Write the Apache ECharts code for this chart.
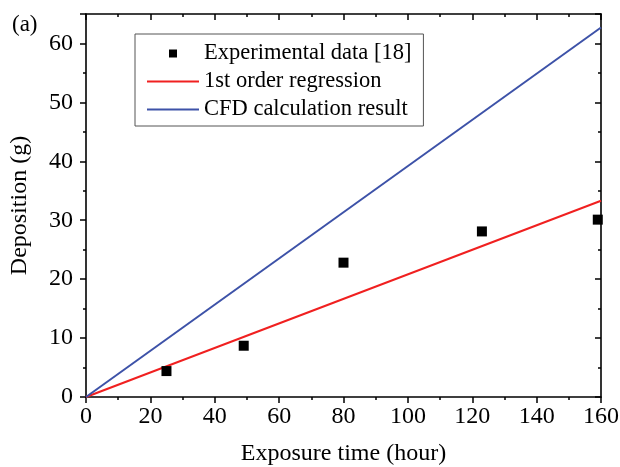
<!DOCTYPE html>
<html>
<head>
<meta charset="utf-8">
<title>Deposition vs exposure time</title>
<script src="https://cdn.jsdelivr.net/npm/echarts@6/dist/echarts.min.js"></script>
<style>
    html, body { margin: 0; padding: 0; background: #fff; }
    #chart { width: 620px; height: 467px; }
</style>
</head>
<body>
<div id="chart"></div>
<script>
'use strict';

// 实验数据 (小时, 克)
var expTime = [25, 49, 80, 123, 159];
var expDeposition = [4.4, 8.7, 22.8, 28.1, 30.1];

// 一次回归线 / CFD计算结果 的端点
var regTime = [0, 160];
var regDeposition = [0, 33.3];
var cfdTime = [0, 160];
var cfdDeposition = [0, 62.7];

var seriesNames = ['Experimental data [18]', '1st order regression', 'CFD calculation result'];

var FONT = '"Liberation Serif", "Times New Roman", serif';

function pairs(xs, ys) {
    return xs.map(function(x, i) { return [x, ys[i]]; });
}

var chart = echarts.init(document.getElementById('chart'), null, { renderer: 'canvas' });

// 坐标轴公共样式
var axisLine = { show: true, onZero: false, lineStyle: { color: '#000', width: 1.6 } };
var tickFmt = function(v) { return v % 10 === 0 ? String(v) : ''; };

var option = {
    backgroundColor: '#fff',
    animation: false,
    title: {
        text: '(a)',
        left: 7,
        top: 8,
        textStyle: { fontFamily: FONT, fontSize: 23, fontWeight: 'normal', color: '#000' }
    },
    // 不让v6自动收缩网格（160标签会贴到右边）
    grid: { left: 86, right: 19, top: 14, bottom: 70, outerBoundsMode: 'none' },
    legend: {
        // 线条图例不要中间的圆点
        data: [
            { name: seriesNames[0] },
            { name: seriesNames[1], itemStyle: { opacity: 0 } },
            { name: seriesNames[2], itemStyle: { opacity: 0 } }
        ],
        orient: 'vertical',
        left: 135,
        top: 34,
        padding: [8, 12, 5, 11],
        itemGap: 5,
        itemWidth: 52,
        itemHeight: 10,
        borderColor: '#555',
        borderWidth: 1,
        textStyle: { fontFamily: FONT, fontSize: 22.5, color: '#000' }
    },
    xAxis: [{
        type: 'value',
        min: 0,
        max: 160,
        interval: 20,
        position: 'bottom',
        name: 'Exposure time (hour)',
        nameLocation: 'middle',
        nameGap: 45,
        nameTextStyle: { fontFamily: FONT, fontSize: 24, color: '#000' },
        axisLine: axisLine,
        axisTick: { show: true, inside: false, length: 6, lineStyle: { color: '#000', width: 1.5 } },
        minorTick: { show: true, splitNumber: 2, length: 3, lineStyle: { color: '#000', width: 1.5 } },
        axisLabel: { fontFamily: FONT, fontSize: 24, color: '#000', margin: 8 },
        splitLine: { show: false }
    }, {
        type: 'value',
        min: 0,
        max: 160,
        interval: 20,
        position: 'top',
        axisLine: axisLine,
        axisTick: { show: true, inside: true, length: 6, lineStyle: { color: '#000', width: 1.5 } },
        minorTick: { show: true, splitNumber: 2, length: 3, lineStyle: { color: '#000', width: 1.5 } },
        axisLabel: { show: false },
        splitLine: { show: false }
    }],
    yAxis: [{
        type: 'value',
        min: 0,
        max: 65,
        interval: 10,
        position: 'left',
        name: 'Deposition (g)',
        nameLocation: 'middle',
        nameGap: 54,
        nameTextStyle: { fontFamily: FONT, fontSize: 24, color: '#000' },
        axisLine: axisLine,
        axisTick: { show: true, inside: false, length: 6, lineStyle: { color: '#000', width: 1.5 } },
        minorTick: { show: true, splitNumber: 2, length: 3, lineStyle: { color: '#000', width: 1.5 } },
        axisLabel: { fontFamily: FONT, fontSize: 24, color: '#000', margin: 13, formatter: tickFmt },
        splitLine: { show: false }
    }, {
        type: 'value',
        min: 0,
        max: 65,
        interval: 10,
        position: 'right',
        axisLine: axisLine,
        axisTick: { show: true, inside: true, length: 6, lineStyle: { color: '#000', width: 1.5 } },
        minorTick: { show: true, splitNumber: 2, length: 3, lineStyle: { color: '#000', width: 1.5 } },
        axisLabel: { show: false },
        splitLine: { show: false }
    }],
    series: [{
        // 实验点：用line系列只画符号，图例里才是小方块
        name: seriesNames[0],
        type: 'line',
        xAxisIndex: 0,
        yAxisIndex: 0,
        data: pairs(expTime, expDeposition),
        symbol: 'rect',
        symbolSize: 10,
        showSymbol: true,
        lineStyle: { width: 0, opacity: 0 },
        itemStyle: { color: '#000' },
        z: 5
    }, {
        name: seriesNames[1],
        type: 'line',
        xAxisIndex: 0,
        yAxisIndex: 0,
        data: pairs(regTime, regDeposition),
        showSymbol: false,
        symbol: 'none',
        lineStyle: { color: '#f02020', width: 2 },
        itemStyle: { color: '#f02020' }
    }, {
        name: seriesNames[2],
        type: 'line',
        xAxisIndex: 0,
        yAxisIndex: 0,
        data: pairs(cfdTime, cfdDeposition),
        showSymbol: false,
        symbol: 'none',
        lineStyle: { color: '#3d52a8', width: 2 },
        itemStyle: { color: '#3d52a8' }
    }]
};

chart.setOption(option);
</script>
</body>
</html>
